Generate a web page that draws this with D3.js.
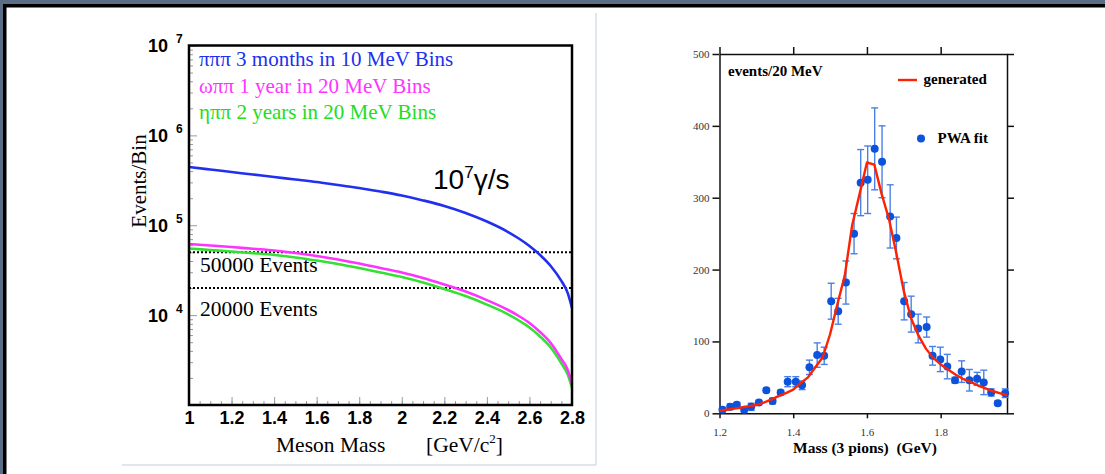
<!DOCTYPE html>
<meta charset="utf-8">
<style>
body { margin: 0; background: #fff; }
svg { display: block; }
.serif { font-family: "Liberation Serif", "Times New Roman", serif; }
.axL text { font-family: "Liberation Sans", Arial, sans-serif; font-weight: bold; font-size: 18px; fill: #000; }
.axL line { stroke: #9a9a9a; }
.axR text { font-family: "Liberation Serif", serif; font-size: 11px; fill: #333; }
.axR line, .axR path { stroke: #111; stroke-width: 1.5; }
</style>
<body>
<script src="https://cdn.jsdelivr.net/npm/d3@7"></script>
<script>

// ---- left panel: expected yields vs meson mass (log scale)
var massL  = [1.0, 1.1, 1.2, 1.3, 1.4, 1.5, 1.6, 1.7, 1.8, 1.9, 2.0, 2.1, 2.2, 2.3, 2.4, 2.5, 2.55, 2.6, 2.65, 2.7, 2.75, 2.78, 2.8];
var pipipi = [4.45e5, 4.17e5, 3.91e5, 3.67e5, 3.44e5, 3.23e5, 3.03e5, 2.80e5, 2.60e5, 2.37e5, 2.14e5, 1.89e5, 1.64e5, 1.37e5, 1.10e5, 8.41e4, 7.12e4, 5.88e4, 4.67e4, 3.52e4, 2.40e4, 1.76e4, 1.20e4];
var omegapipi = [6.19e4, 5.95e4, 5.73e4, 5.48e4, 5.24e4, 4.91e4, 4.55e4, 4.16e4, 3.75e4, 3.34e4, 2.98e4, 2.59e4, 2.19e4, 1.83e4, 1.47e4, 1.14e4, 9.78e3, 8.17e3, 6.49e3, 4.90e3, 3.25e3, 2.45e3, 1.71e3];
var etapipi = [5.51e4, 5.30e4, 5.10e4, 4.89e4, 4.67e4, 4.38e4, 4.05e4, 3.71e4, 3.34e4, 2.98e4, 2.66e4, 2.31e4, 1.95e4, 1.63e4, 1.31e4, 1.02e4, 8.71e3, 7.28e3, 5.78e3, 4.36e3, 2.90e3, 2.18e3, 1.55e3];
var xTicksL = [1, 1.2, 1.4, 1.6, 1.8, 2, 2.2, 2.4, 2.6, 2.8];
var yTicksL = [1e4, 1e5, 1e6, 1e7];
var thresholds = [5e4, 2e4];
var legendL = ["\u03c0\u03c0\u03c0 3 months in 10 MeV Bins", "\u03c9\u03c0\u03c0 1 year in 20 MeV Bins", "\u03b7\u03c0\u03c0 2 years in 20 MeV Bins"];

// ---- right panel: 3 pion mass spectrum
var massR = [1.208, 1.229, 1.247, 1.267, 1.286, 1.307, 1.327, 1.344, 1.366, 1.385, 1.407, 1.424, 1.444, 1.465, 1.484, 1.503, 1.522, 1.543, 1.565, 1.583, 1.602, 1.621, 1.641, 1.663, 1.680, 1.701, 1.720, 1.739, 1.762, 1.778, 1.799, 1.818, 1.839, 1.857, 1.878, 1.899, 1.917, 1.937, 1.955, 1.975];
var pwa = [5, 9, 12, 5, 9, 15, 32, 17, 29, 44, 44, 39, 64, 81, 80, 156, 142, 182, 250, 321, 325, 368, 350, 274, 244, 156, 138, 118, 120, 80, 75, 65, 46, 58, 46, 48, 43, 29, 14, 28];
var pwaErr = [3, 4, 3, 3, 5, 3, 3, 4, 3, 7, 7, 6, 10, 17, 12, 25, 18, 30, 28, 46, 47, 57, 50, 44, 29, 26, 25, 20, 14, 13, 17, 17, 4, 15, 15, 9, 17, 5, 3, 6];
var massG = [1.20, 1.22, 1.24, 1.26, 1.28, 1.30, 1.32, 1.34, 1.36, 1.38, 1.40, 1.42, 1.44, 1.46, 1.48, 1.50, 1.52, 1.54, 1.56, 1.58, 1.60, 1.62, 1.64, 1.66, 1.68, 1.70, 1.72, 1.74, 1.76, 1.78, 1.80, 1.82, 1.84, 1.86, 1.88, 1.90, 1.92, 1.94, 1.96, 1.98];
var generated = [3.6, 5, 6.5, 8, 10, 11.5, 15, 19, 24, 28, 33, 42, 50, 64, 78, 110, 152, 192, 262, 305, 349, 346, 305, 270, 222, 170, 132, 108, 90, 77, 68, 61, 54, 48, 44, 39, 35, 31, 28, 25];
var xTicksR = [1.2, 1.4, 1.6, 1.8];
var yTicksR = [0, 100, 200, 300, 400, 500];

var svg = d3.select("body").append("svg")
    .attr("width", 1105)
    .attr("height", 474);

// slide background / frame
svg.append("rect").attr("width", 1105).attr("height", 474).attr("fill", "#fff");
svg.append("rect").attr("width", 1105).attr("height", 5).attr("fill", "#5b6e88");
svg.append("rect").attr("y", 4).attr("width", 1105).attr("height", 3.5).attr("fill", "#000");
svg.append("rect").attr("width", 3).attr("height", 474).attr("fill", "#5b6e88");
svg.append("rect").attr("x", 3).attr("y", 4).attr("width", 3.5).attr("height", 470).attr("fill", "#000");
svg.append("line").attr("x1", 596).attr("x2", 596).attr("y1", 13).attr("y2", 465)
    .attr("stroke", "#d6dde8").attr("stroke-width", 1.5);
svg.append("line").attr("x1", 122).attr("x2", 596).attr("y1", 465).attr("y2", 465)
    .attr("stroke", "#d6dde8").attr("stroke-width", 1.5);

// ================= left chart
var xL = d3.scaleLinear().domain([1, 2.8]).range([189, 572]);
var yL = d3.scaleLog().domain([1e3, 1e7]).range([405, 45.5]);

// minor ticks
var minorX = d3.range(1, 2.8001, 0.05);
svg.append("g").attr("class", "axL")
    .attr("transform", "translate(0,405)")
    .call(d3.axisBottom(xL).tickValues(minorX).tickSizeInner(-4).tickSizeOuter(0).tickFormat(""))
    .call(function(g) { g.select(".domain").remove(); });
var minorY = [];
[1e3, 1e4, 1e5, 1e6].forEach(function(d) { for (var k = 2; k < 10; k++) minorY.push(d * k); });
svg.append("g").attr("class", "axL")
    .attr("transform", "translate(189,0)")
    .call(d3.axisLeft(yL).tickValues(minorY).tickSizeInner(-4).tickSizeOuter(0).tickFormat(""))
    .call(function(g) { g.select(".domain").remove(); });

// major ticks + labels
svg.append("g").attr("class", "axL")
    .attr("transform", "translate(0,405)")
    .call(d3.axisBottom(xL).tickValues(xTicksL).tickSizeInner(-8).tickSizeOuter(0).tickPadding(6)
        .tickFormat(d3.format("~g")))
    .call(function(g) { g.select(".domain").remove(); });

var yAx = svg.append("g").attr("class", "axL")
    .attr("transform", "translate(189,0)")
    .call(d3.axisLeft(yL).tickValues(yTicksL).tickSizeInner(-8).tickSizeOuter(0).tickFormat(""))
    .call(function(g) { g.select(".domain").remove(); });
yAx.selectAll(".tick").each(function(d) {
  var t = d3.select(this);
  t.select("text").remove();
  t.append("text").attr("x", -21).attr("dy", "0.35em").attr("text-anchor", "end").text("10");
  t.append("text").attr("x", -13).attr("y", -3).attr("text-anchor", "start")
      .style("font-size", "12px")
      .text(Math.round(Math.log10(d)));
});

// threshold dotted lines
thresholds.forEach(function(v) {
  svg.append("line")
      .attr("x1", xL(1)).attr("x2", xL(2.8))
      .attr("y1", yL(v)).attr("y2", yL(v))
      .attr("stroke", "#000").attr("stroke-width", 2).attr("stroke-dasharray", "2,2");
});

var lineL = function(vals) {
  return d3.line()
      .x(function(d, i) { return xL(massL[i]); })
      .y(function(d) { return yL(d); })
      .curve(d3.curveMonotoneX)(vals);
};
var colorsL = ["#2030ee", "#ff33ff", "#33e033"];
[pipipi, etapipi, omegapipi].forEach(function(vals, i) {
  svg.append("path").attr("d", lineL(vals))
      .attr("fill", "none").attr("stroke", [colorsL[0], colorsL[2], colorsL[1]][i])
      .attr("stroke-width", 2.6);
});

// frame
svg.append("rect")
    .attr("x", 189).attr("y", 45.5).attr("width", 383).attr("height", 359.5)
    .attr("fill", "none").attr("stroke", "#000").attr("stroke-width", 2.5);

// legend text
var legendCol = ["#2030ee", "#ff33ff", "#22dd22"];
legendL.forEach(function(s, i) {
  svg.append("text").attr("class", "serif")
      .attr("x", 199).attr("y", 66 + i * 26.5)
      .style("font-size", "21px").attr("fill", legendCol[i])
      .text(s);
});

svg.append("text").attr("class", "serif").attr("x", 200).attr("y", 272)
    .style("font-size", "21.5px").text("50000 Events");
svg.append("text").attr("class", "serif").attr("x", 200).attr("y", 316)
    .style("font-size", "21.5px").text("20000 Events");

var flux = svg.append("text").attr("x", 433).attr("y", 189)
    .style("font-family", "'Liberation Sans', Arial, sans-serif").style("font-size", "28px");
flux.append("tspan").text("10");
flux.append("tspan").attr("dy", -11).style("font-size", "17px").text("7");
flux.append("tspan").attr("dy", 11).text("\u03b3/s");

svg.append("text").attr("class", "serif")
    .attr("transform", "translate(146,181) rotate(-90)")
    .attr("text-anchor", "middle").style("font-size", "21px")
    .text("Events/Bin");

svg.append("text").attr("class", "serif").attr("x", 276).attr("y", 452)
    .style("font-size", "21.5px").text("Meson Mass");
var unit = svg.append("text").attr("class", "serif").attr("x", 426).attr("y", 452)
    .style("font-size", "21.5px");
unit.append("tspan").text("[GeV/c");
unit.append("tspan").attr("dy", -9).style("font-size", "13px").text("2");
unit.append("tspan").attr("dy", 9).text("]");

// ================= right chart
var xR = d3.scaleLinear().domain([1.2, 1.98]).range([719.5, 1007]);
var yR = d3.scaleLinear().domain([0, 500]).range([413.3, 54]);

svg.append("g").attr("class", "axR")
    .attr("transform", "translate(719.5,0)")
    .call(d3.axisLeft(yR).tickValues(yTicksR).tickSize(7).tickPadding(3).tickSizeOuter(0));
svg.append("g").attr("class", "axR")
    .attr("transform", "translate(1007,0)")
    .call(d3.axisRight(yR).tickValues(yTicksR).tickSize(7).tickSizeOuter(0).tickFormat(""));
svg.append("g").attr("class", "axR")
    .attr("transform", "translate(0,54)")
    .call(d3.axisTop(xR).tickValues(xTicksR).tickSize(7).tickSizeOuter(0).tickFormat(""));
var bx = svg.append("g").attr("class", "axR")
    .attr("transform", "translate(0,413.3)")
    .call(d3.axisBottom(xR).tickValues(xTicksR).tickSize(5).tickPadding(10).tickSizeOuter(0)
        .tickFormat(d3.format(".1f")));
bx.select(".domain").attr("stroke", "#444");

// error bars
var eb = svg.append("g").attr("stroke", "#4a80e6").attr("stroke-width", 1.4);
pwa.forEach(function(v, i) {
  var x = xR(massR[i]), y1 = yR(v - pwaErr[i]), y2 = yR(v + pwaErr[i]);
  eb.append("line").attr("x1", x).attr("x2", x).attr("y1", y1).attr("y2", y2);
  eb.append("line").attr("x1", x - 3.5).attr("x2", x + 3.5).attr("y1", y1).attr("y2", y1);
  eb.append("line").attr("x1", x - 3.5).attr("x2", x + 3.5).attr("y1", y2).attr("y2", y2);
});

svg.append("g").selectAll("circle")
    .data(pwa)
  .enter().append("circle")
    .attr("cx", function(d, i) { return xR(massR[i]); })
    .attr("cy", function(d) { return yR(d); })
    .attr("r", 4)
    .attr("fill", "#0b52dc");

svg.append("path")
    .attr("d", d3.line()
        .x(function(d, i) { return xR(massG[i]); })
        .y(function(d) { return yR(d); })(generated))
    .attr("fill", "none").attr("stroke", "#ff2200").attr("stroke-width", 2.4)
    .attr("stroke-linejoin", "round");

svg.append("text").attr("class", "serif").attr("x", 728).attr("y", 76)
    .style("font-size", "15px").style("font-weight", "bold").text("events/20 MeV");
svg.append("line").attr("x1", 898).attr("x2", 917).attr("y1", 80).attr("y2", 80)
    .attr("stroke", "#ff2200").attr("stroke-width", 2.4);
svg.append("text").attr("class", "serif").attr("x", 923.5).attr("y", 84)
    .style("font-size", "15px").style("font-weight", "bold").text("generated");
svg.append("circle").attr("cx", 921).attr("cy", 138.5).attr("r", 4).attr("fill", "#0b52dc");
svg.append("text").attr("class", "serif").attr("x", 937.5).attr("y", 143)
    .style("font-size", "15px").style("font-weight", "bold").text("PWA fit");

svg.append("text").attr("class", "serif").attr("x", 865).attr("y", 453)
    .attr("text-anchor", "middle").style("white-space", "pre")
    .style("font-size", "15.5px").style("font-weight", "bold").text("Mass (3 pions)  (GeV)");

</script>
</body>
